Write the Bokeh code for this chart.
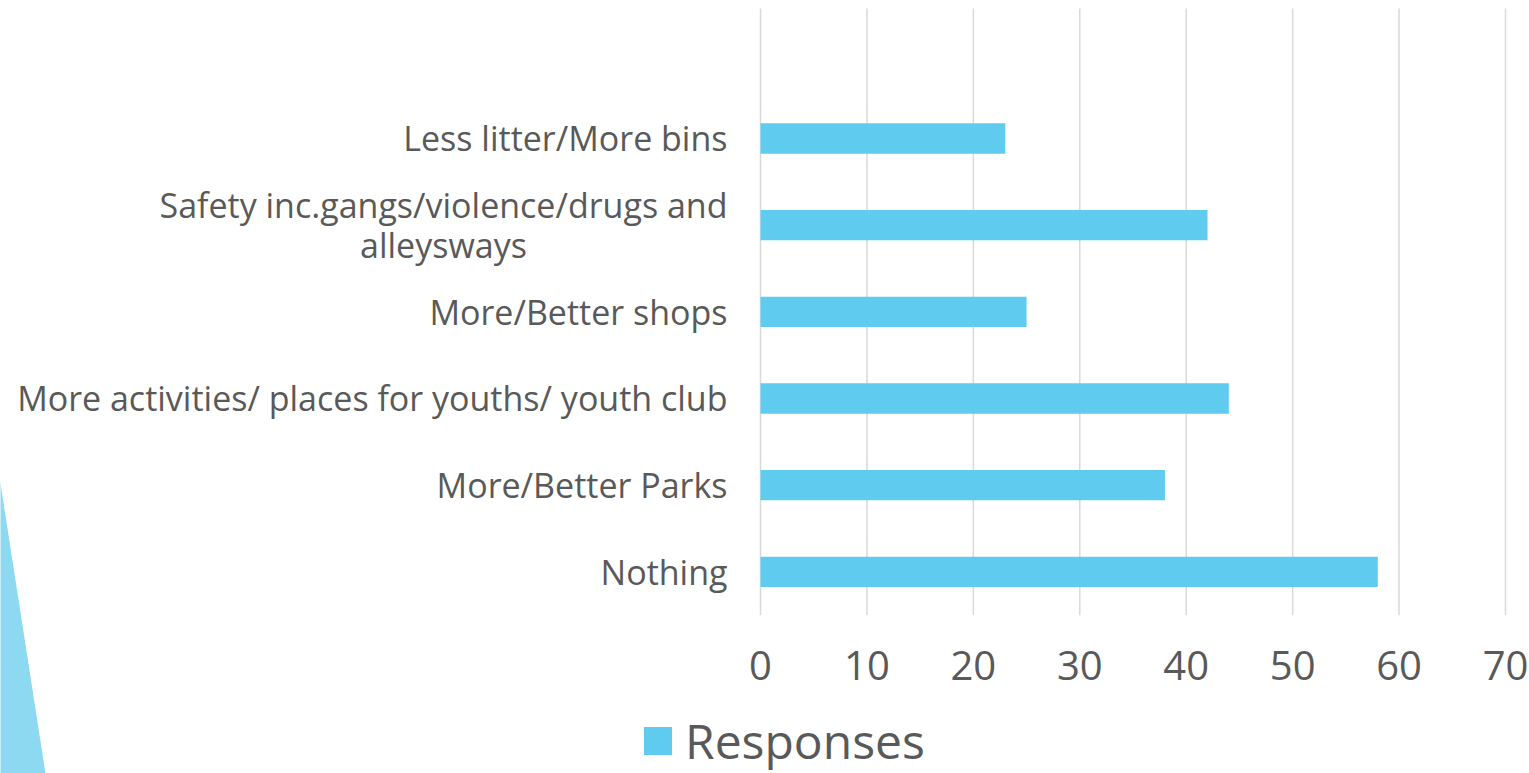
from bokeh.plotting import figure
from bokeh.models import Range1d, Legend, LegendItem, ColumnDataSource
from bokeh.core.properties import value
from bokeh.embed import file_html
from bokeh.resources import INLINE

# ---- data (top to bottom as in the reference) ----
categories = [
    "Less litter/More bins",
    "Safety inc.gangs/violence/drugs and alleysways",
    "More/Better shops",
    "More activities/ places for youths/ youth club",
    "More/Better Parks",
    "Nothing",
]
responses = [23, 42, 25, 44, 38, 58]
x_ticks = [0, 10, 20, 30, 40, 50, 60, 70]
tick_labels = [str(t) for t in x_ticks]
series_name = "Responses"
wrapped_label = ["Safety inc.gangs/violence/drugs and", "alleysways"]

FONT = "Open Sans"
TXT = "#595959"
BAR = "#5ECBEF"
GRID = "#D9D9D9"
DECO = "#8DD9F2"

n = len(categories)
ypos = [n - 1 - i for i in range(n)]   # slot index, bottom = 0

p = figure(width=1529, height=773, output_backend="svg", toolbar_location=None,
           x_range=Range1d(-71.41, 72.255), y_range=Range1d(-2.327, 6.592),
           min_border=0)
p.outline_line_color = None
p.background_fill_color = "white"
p.border_fill_color = "white"
p.axis.visible = False
p.grid.visible = False

# decorative triangle (slide ornament, lower left)
p.patch(x=[-72.0, -71.41, -67.18, -66.9, -72.0], y=[1.2, 1.019, -2.327, -2.5, -2.5],
        fill_color=DECO, line_color=None)

# vertical grid lines at the tick values
p.segment(x0=x_ticks, x1=x_ticks, y0=[-0.5] * len(x_ticks), y1=[n + 0.5] * len(x_ticks),
          line_color=GRID, line_width=1.5)

src = ColumnDataSource(dict(y=ypos, val=responses, cat=categories))
bars = p.hbar(y="y", right="val", left=0, height=0.35, source=src,
              fill_color=BAR, line_color=None)

# category labels
single_idx = [i for i, c in enumerate(categories) if c.split(" ")[0] != "Safety"]
lab = ColumnDataSource(dict(y=[ypos[i] for i in single_idx], x=[-3.1] * len(single_idx),
                            t=[categories[i] for i in single_idx]))
p.text(x="x", y="y", text="t", source=lab, text_align="right", text_baseline="middle",
       text_font=value(FONT), text_font_size="34px", text_color=TXT)

wi = [i for i, c in enumerate(categories) if c.split(" ")[0] == "Safety"][0]
p.text(x=[-3.1], y=[ypos[wi]], text=[wrapped_label[0]], y_offset=-20, text_align="right",
       text_baseline="middle", text_font=value(FONT), text_font_size="34px", text_color=TXT)
p.text(x=[-29.79], y=[ypos[wi]], text=[wrapped_label[1]], y_offset=20, text_align="center",
       text_baseline="middle", text_font=value(FONT), text_font_size="34px", text_color=TXT)

# x tick labels
p.text(x=x_ticks, y=[-1.081] * len(x_ticks), text=tick_labels, text_align="center",
       text_baseline="middle", text_font=value(FONT), text_font_size="40px", text_color=TXT)

legend = Legend(items=[LegendItem(label=series_name, renderers=[bars])],
                orientation="horizontal", location=(640, 0),
                label_text_font=FONT, label_text_font_size="48px", label_text_color=TXT,
                glyph_width=35, glyph_height=35, label_standoff=10,
                border_line_color=None, background_fill_alpha=0, padding=0, margin=0)
p.add_layout(legend)

open("out.html", "w").write(file_html(p, INLINE))
